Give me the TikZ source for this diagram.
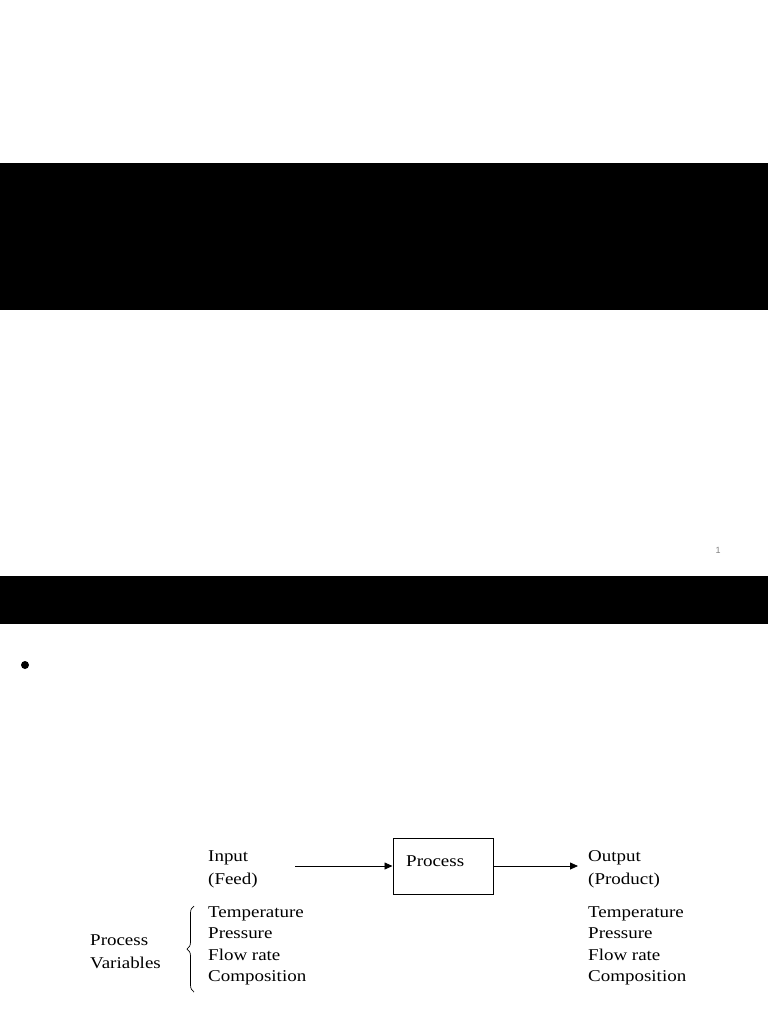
\documentclass[tikz,border=0pt]{standalone}
\usepackage{fontspec}
\setmainfont{Liberation Serif}
\newfontfamily\diagfont[FakeStretch=1.15]{Liberation Serif}
\newfontfamily\smallsans{Liberation Sans}
\usetikzlibrary{arrows.meta,decorations.pathreplacing}
\begin{document}
\begin{tikzpicture}[x=1pt,y=-1pt,
  lbl/.style={anchor=base west,inner sep=0pt,font=\diagfont\fontsize{16.5}{20}\selectfont},
  conn/.style={-{Triangle[length=8pt,width=7pt]},line width=0.8pt},
  procbox/.style={draw,line width=1pt,minimum width=100pt,minimum height=56pt,inner sep=0pt}]
\useasboundingbox (0,0) rectangle (768,1024);
\fill[white] (0,0) rectangle (768,1024);
% black bands
\fill[black] (0,163) rectangle (768,310);
\fill[black] (0,576) rectangle (768,624);
% page number
\node[anchor=base,inner sep=0pt,text=gray,font=\smallsans\fontsize{9}{10}\selectfont] (pnum) at (718,553) {1};
% bullet
\fill[black] (25,665) circle (4pt);
% process box
\node[procbox] (proc) at (443,866) {};
\node[lbl] (proctext) at (406,866) {Process};
% input / output
\node[lbl] (in1) at (208,861) {Input};
\node[lbl] (in2) at (208,884) {(Feed)};
\node[lbl] (out1) at (588,861) {Output};
\node[lbl] (out2) at (588,884) {(Product)};
\coordinate (instart) at (295,866);
\coordinate (outend) at (578,866);
\draw[conn] (instart) -- (proc.west);
\draw[conn] (proc.east) -- (outend);
% lists
\foreach \n/\t/\y in {a/Temperature/917,b/Pressure/938,c/Flow rate/960,d/Composition/981}{
  \node[lbl] (l\n) at (208,\y) {\t};
  \node[lbl] (r\n) at (588,\y) {\t};
}
\node[lbl] (pv1) at (90,945) {Process};
\node[lbl] (pv2) at (90,968) {Variables};
% brace
\coordinate (bt) at (194,906);
\coordinate (bb) at (194,992);
\draw[line width=0.7pt,decorate,decoration={brace,amplitude=7pt}] (bb) -- (bt);
\end{tikzpicture}
\end{document}
